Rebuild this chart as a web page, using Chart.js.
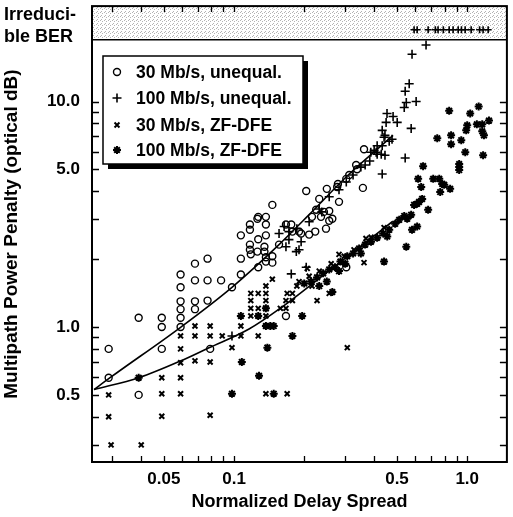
<!DOCTYPE html>
<html>
<head>
<meta charset="utf-8">
<script src="https://cdn.jsdelivr.net/npm/chart.js@4.4.0/dist/chart.umd.min.js"></script>
<style>
  body { margin: 0; background: #fff; }
</style>
</head>
<body>
<canvas id="penalty" width="513" height="517"></canvas>
<script>
// measured points: [normalized delay spread, penalty (optical dB)]
const unEq30 = [
  [0.029,0.80],[0.029,0.596],[0.039,1.10],[0.039,0.50],[0.049,1.10],[0.049,1.0],[0.049,0.80],
  [0.059,1.71],[0.059,1.50],[0.059,1.30],[0.059,1.20],[0.059,1.10],[0.059,1.0],
  [0.068,1.91],[0.068,1.61],[0.068,1.30],[0.068,1.20],
  [0.077,2.01],[0.077,1.61],[0.077,1.31],[0.079,0.80],[0.088,1.61],[0.098,1.50],
  [0.107,2.55],[0.107,2.01],[0.107,1.71],
  [0.117,2.85],[0.117,2.70],[0.117,2.32],[0.117,2.20],[0.118,2.10],
  [0.127,3.08],[0.126,3.02],[0.127,2.45],[0.126,2.16],[0.127,1.84],
  [0.137,3.08],[0.137,2.85],[0.137,2.55],[0.135,2.27],[0.135,2.16],[0.137,2.04],[0.137,1.95],
  [0.146,3.48],[0.146,2.06],[0.146,1.93],[0.156,2.32],[0.167,1.12],
  [0.167,2.85],[0.176,2.85],[0.178,2.65],[0.190,2.65],[0.194,2.60],
  [0.204,4.01],[0.210,2.57],[0.216,3.08],[0.225,3.31],[0.232,3.70],[0.236,3.08],[0.243,3.24],
  [0.248,2.73],[0.250,4.10],[0.256,3.27],[0.256,2.96],[0.264,3.02],[0.223,2.65],
  [0.279,4.31],[0.282,3.59],[0.303,4.54],[0.312,4.72],[0.277,4.18],[0.334,5.23],[0.337,5.01],
  [0.357,4.14],[0.361,6.14],[0.303,1.84]
];
const unEq100 = [
  [0.098,0.913],[0.167,2.27],[0.172,2.65],[0.172,2.44],[0.185,2.16],[0.186,2.73],[0.190,2.20],
  [0.194,2.39],[0.176,1.72],[0.204,1.84],[0.210,2.93],[0.232,3.34],[0.238,3.24],[0.256,3.78],
  [0.282,4.06],[0.303,4.40],[0.324,4.72],[0.350,5.12],[0.365,5.23],[0.382,5.45],[0.399,6.07],
  [0.411,5.84],[0.386,5.96],[0.407,5.96],[0.428,5.84],[0.444,5.78],[0.444,7.08],[0.463,6.67],
  [0.432,6.37],[0.440,6.94],[0.476,6.80],[0.411,6.37],[0.432,7.45],[0.449,8.08],[0.501,8.08],
  [0.575,7.60],[0.453,8.85],[0.481,8.58],[0.537,9.41],[0.548,9.90],[0.604,10.0],[0.542,11.1],
  [0.564,12.0],[0.580,16.2],[0.666,17.8],[0.542,5.62],[0.432,4.77],[0.156,2.60],[0.164,2.79]
];
// 100 Mb/s unequalized runs that hit an irreducible BER (delay spread only)
const irreducible100 = [0.592,0.610,0.680,0.730,0.750,0.790,0.837,0.870,0.915,0.945,0.980,1.04,1.13,1.17,1.23];
const dfe30 = [
  [0.029,0.50],[0.029,0.40],[0.0297,0.30],[0.040,0.30],[0.049,0.596],[0.049,0.506],[0.049,0.402],
  [0.059,0.913],[0.059,0.80],[0.059,0.694],[0.059,0.596],[0.059,0.506],
  [0.068,1.01],[0.068,0.913],[0.068,0.708],[0.079,1.01],[0.079,0.913],[0.079,0.70],[0.079,0.406],
  [0.089,0.913],[0.098,0.81],[0.107,1.01],[0.107,0.913],
  [0.118,1.41],[0.118,1.31],[0.118,1.21],[0.118,1.12],[0.127,1.41],[0.127,1.21],[0.127,1.12],[0.127,0.913],
  [0.137,1.52],[0.137,1.41],[0.137,1.31],[0.137,1.21],[0.137,1.12],[0.137,1.01],[0.146,1.63],
  [0.137,0.506],[0.169,0.506],[0.169,1.41],[0.178,1.41],[0.167,1.31],[0.178,1.31],[0.158,1.21],[0.167,1.21],
  [0.206,1.82],[0.227,1.31],[0.306,0.81],[0.361,1.93],[0.368,2.47],[0.256,1.41],
  [0.190,1.59],[0.210,1.68],[0.232,1.77],[0.261,1.91],[0.297,2.06],[0.327,2.20],[0.387,2.50],
  [0.440,2.76],[0.186,1.52],[0.216,1.52],[0.282,2.10]
];
const dfe100 = [
  [0.039,0.596],[0.098,0.506],[0.107,1.12],[0.108,0.70],[0.127,1.12],[0.128,0.608],[0.137,1.21],
  [0.137,1.01],[0.143,1.01],[0.148,1.01],[0.139,0.81],[0.148,0.506],[0.178,0.913],[0.196,1.12],[0.264,1.43],
  [0.200,1.56],[0.214,1.59],[0.227,1.66],[0.241,1.73],[0.256,1.80],[0.271,1.84],[0.286,1.95],[0.306,2.06],
  [0.324,2.12],[0.344,2.23],[0.365,2.32],[0.387,2.39],[0.411,2.49],[0.436,2.60],[0.463,2.70],[0.491,2.87],
  [0.511,2.99],[0.537,3.11],[0.250,1.59],[0.300,1.91],[0.350,2.12],[0.454,2.52],[0.282,1.77],[0.232,1.52],
  [0.440,1.95],[0.548,2.27],[0.580,2.70],[0.610,2.79],[0.553,3.02],[0.575,3.15],[0.592,3.48],[0.610,3.52],
  [0.622,3.59],[0.641,3.70],[0.680,3.31],[0.635,4.18],[0.616,4.54],[0.715,4.54],[0.759,4.54],[0.781,4.31],
  [0.797,4.27],[0.766,3.97],[0.845,4.10],[0.647,5.17],[0.924,5.28],[0.924,5.12],[0.924,4.97],[0.981,5.96],
  [1.17,5.78],[1.18,7.08],[0.943,6.74],[0.853,7.08],[0.853,6.47],[0.744,6.87],[0.837,9.10],[1.03,8.85],
  [1.12,9.50],[1.00,7.84],[0.99,7.45],[1.10,7.92],[1.16,7.92],[1.24,8.23],[1.16,7.38]
];
// fitted curves
const fitUnEqX = [0.0251,0.0294,0.0592,0.098,0.156,0.210,0.312,0.481];
const fitUnEqY = [0.528,0.596,1.0,1.50,2.32,3.15,4.77,7.08];
const fitDfeX = [0.0251,0.0391,0.0592,0.0781,0.116,0.156,0.256,0.477];
const fitDfeY = [0.528,0.596,0.708,0.809,0.98,1.20,1.78,2.93];

const legendLabels = ['30 Mb/s, unequal.', '100 Mb/s, unequal.', '30 Mb/s, ZF-DFE', '100 Mb/s, ZF-DFE'];
const xTickVals = [0.05, 0.1, 0.5, 1.0];
const yTickVals = [0.5, 1, 5, 10];
const xMarks = [0.03,0.04,0.05,0.06,0.07,0.08,0.09,0.1,0.2,0.3,0.4,0.5,0.6,0.7,0.8,0.9,1.0];
const yMarks = [0.3,0.4,0.5,0.6,0.7,0.8,0.9,1,2,3,4,5,6,7,8,9,10];
const berLimit = 18.8;   // bottom of the "irreducible BER" band
const berLevel = 20.8;

const FONT = '"Liberation Sans", Arial, sans-serif';
const pts = a => a.map(p => ({x: p[0], y: p[1]}));
const fit = (xs, ys) => xs.map((v, i) => ({x: v, y: ys[i]}));

const markers = [
  {pointStyle: 'circle', radius: 3.5, borderWidth: 1.4},
  {pointStyle: 'cross', radius: 4.5, borderWidth: 1.6},
  {pointStyle: 'crossRot', radius: 3.5, borderWidth: 2},
  {pointStyle: 'star', radius: 4, borderWidth: 2}
];
const scatterSet = (data, m) => ({
  type: 'scatter', data: data,
  pointStyle: m.pointStyle, pointRadius: m.radius, borderWidth: m.borderWidth,
  borderColor: '#000', backgroundColor: 'transparent'
});

function stipple(ctx) {
  const c = document.createElement('canvas');
  c.width = 4; c.height = 4;
  const g = c.getContext('2d');
  g.fillStyle = '#fff'; g.fillRect(0, 0, 4, 4);
  g.fillStyle = '#b4b4b4';
  g.fillRect(0, 0, 1, 1); g.fillRect(2, 1, 1, 1); g.fillRect(1, 3, 1, 1);
  return ctx.createPattern(c, 'repeat');
}

function drawMark(ctx, m, x, y) {
  ctx.save();
  ctx.strokeStyle = '#000';
  ctx.lineWidth = m.borderWidth;
  const r = m.radius;
  ctx.beginPath();
  if (m.pointStyle === 'circle') {
    ctx.arc(x, y, r, 0, Math.PI * 2);
  } else {
    const d = r * Math.SQRT1_2;
    if (m.pointStyle !== 'crossRot') {
      ctx.moveTo(x - r, y); ctx.lineTo(x + r, y);
      ctx.moveTo(x, y - r); ctx.lineTo(x, y + r);
    }
    if (m.pointStyle !== 'cross') {
      ctx.moveTo(x - d, y - d); ctx.lineTo(x + d, y + d);
      ctx.moveTo(x - d, y + d); ctx.lineTo(x + d, y - d);
    }
  }
  ctx.stroke();
  ctx.restore();
}

const framePlugin = {
  id: 'framePlugin',
  beforeDatasetsDraw(chart) {
    const {ctx, chartArea: a, scales: {y}} = chart;
    const yb = y.getPixelForValue(berLimit);
    ctx.save();
    ctx.fillStyle = stipple(ctx);
    ctx.fillRect(a.left, a.top, a.right - a.left, yb - a.top);
    ctx.restore();
  },
  afterDatasetsDraw(chart) {
    const {ctx, chartArea: a, scales: {x, y}} = chart;
    const yb = y.getPixelForValue(berLimit);
    ctx.save();
    ctx.strokeStyle = '#000';
    ctx.lineWidth = 2;
    ctx.strokeRect(a.left, a.top, a.right - a.left, a.bottom - a.top);
    ctx.lineWidth = 1.5;
    ctx.beginPath();
    ctx.moveTo(a.left, yb); ctx.lineTo(a.right, yb);
    ctx.stroke();
    ctx.lineWidth = 1.3;
    ctx.beginPath();
    xMarks.forEach(v => {
      const px = Math.round(x.getPixelForValue(v)) + 0.5;
      ctx.moveTo(px, a.bottom); ctx.lineTo(px, a.bottom - 6);
      ctx.moveTo(px, a.top); ctx.lineTo(px, a.top + 6);
    });
    yMarks.forEach(v => {
      const py = Math.round(y.getPixelForValue(v)) + 0.5;
      ctx.moveTo(a.left, py); ctx.lineTo(a.left + 7, py);
      ctx.moveTo(a.right, py); ctx.lineTo(a.right - 7, py);
    });
    ctx.stroke();
    ctx.restore();
  },
  afterDraw(chart) {
    const ctx = chart.ctx;
    ctx.save();
    // band label
    ctx.fillStyle = '#000';
    ctx.font = 'bold 18px ' + FONT;
    ctx.textBaseline = 'middle';
    ctx.textAlign = 'left';
    ctx.fillText('Irreduci-', 4, 15);
    ctx.fillText('ble BER', 4, 37);
    // legend box with drop shadow
    const bx = 103, by = 56, bw = 200, bh = 108;
    ctx.fillStyle = '#000';
    ctx.fillRect(bx + 5, by + 5, bw, bh);
    ctx.fillStyle = '#fff';
    ctx.fillRect(bx, by, bw, bh);
    ctx.strokeStyle = '#000';
    ctx.lineWidth = 1.5;
    ctx.strokeRect(bx, by, bw, bh);
    const rows = [72, 98, 125, 150];
    ctx.fillStyle = '#000';
    ctx.font = 'bold 17.5px ' + FONT;
    legendLabels.forEach((t, i) => {
      drawMark(ctx, markers[i], 117, rows[i]);
      ctx.fillText(t, 136, rows[i] + 1);
    });
    ctx.restore();
  }
};

new Chart(document.getElementById('penalty'), {
  data: {
    datasets: [
      {type: 'line', data: fit(fitUnEqX, fitUnEqY), borderColor: '#000', borderWidth: 1.6,
       pointRadius: 0, cubicInterpolationMode: 'monotone', fill: false},
      {type: 'line', data: fit(fitDfeX, fitDfeY), borderColor: '#000', borderWidth: 1.6,
       pointRadius: 0, cubicInterpolationMode: 'monotone', fill: false},
      scatterSet(pts(unEq30), markers[0]),
      scatterSet(pts(unEq100), markers[1]),
      scatterSet(irreducible100.map(v => ({x: v, y: berLevel})), {pointStyle: 'cross', radius: 3.5, borderWidth: 1.6}),
      scatterSet(pts(dfe30), markers[2]),
      scatterSet(pts(dfe100), markers[3])
    ]
  },
  options: {
    responsive: false,
    devicePixelRatio: 1,
    animation: false,
    layout: {padding: {top: 3, right: 5, left: 0, bottom: 0}},
    plugins: {legend: {display: false}, tooltip: {enabled: false}},
    scales: {
      x: {
        type: 'logarithmic', position: 'bottom', min: 0.0246, max: 1.48,
        afterBuildTicks: s => { s.ticks = xTickVals.map(v => ({value: v})); },
        afterFit: s => { s.height = 55; s.paddingLeft = 0; s.paddingRight = 0; },
        grid: {display: false, drawTicks: false},
        border: {display: false},
        ticks: {
          autoSkip: false, maxRotation: 0, padding: 7, color: '#000',
          font: {family: FONT, size: 17, weight: 'bold'},
          callback: v => (v === 1 ? '1.0' : String(v))
        },
        title: {display: true, text: 'Normalized Delay Spread', color: '#000',
                font: {family: FONT, size: 18, weight: 'bold'}, padding: {top: 4}}
      },
      y: {
        type: 'logarithmic', min: 0.252, max: 26.5,
        afterBuildTicks: s => { s.ticks = yTickVals.map(v => ({value: v})); },
        afterFit: s => { s.width = 92; s.paddingTop = 0; s.paddingBottom = 0; },
        grid: {display: false, drawTicks: false},
        border: {display: false},
        ticks: {
          autoSkip: false, padding: 12, color: '#000',
          font: {family: FONT, size: 17, weight: 'bold'},
          callback: v => (v >= 1 ? v.toFixed(1) : String(v))
        },
        title: {display: true, text: 'Multipath Power Penalty (optical dB)', color: '#000',
                font: {family: FONT, size: 19, weight: 'bold'}, padding: {top: 0, bottom: 0}}
      }
    }
  },
  plugins: [framePlugin]
});
</script>
</body>
</html>
